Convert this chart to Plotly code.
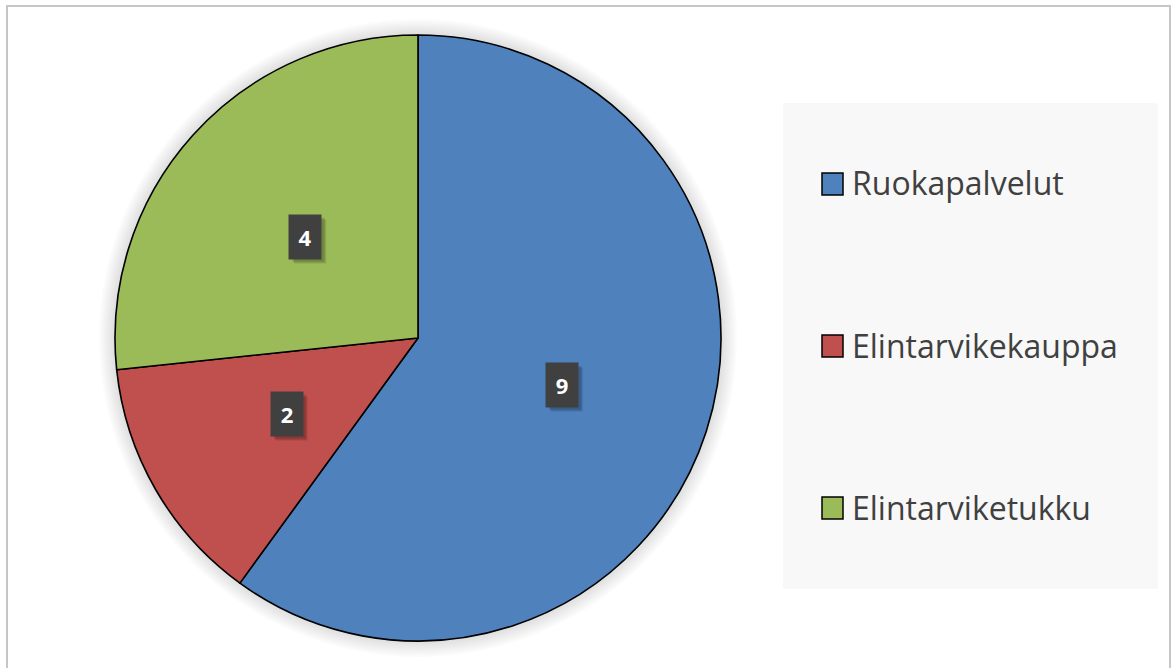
import math
import plotly.graph_objects as go

# ---- data ----
categories = ["Ruokapalvelut", "Elintarvikekauppa", "Elintarviketukku"]
values = [9, 2, 4]
colors = ["#4F81BD", "#C0504D", "#9BBB59"]

# ---- geometry (pixels) ----
W, H = 1175, 668
CX, CY, R = 418, 338, 303          # pie centre / radius in px (from top-left)
LEG_X0, LEG_X1, LEG_Y0, LEG_Y1 = 783, 1158, 103, 589
LEG_STEP = 162


def px(x):
    return x / W


def py(y):
    return 1 - y / H


fig = go.Figure()

fig.add_trace(go.Pie(
    labels=categories,
    values=values,
    marker=dict(colors=colors, line=dict(color="#000000", width=1.6)),
    sort=False,
    direction="clockwise",
    rotation=0,
    textinfo="none",
    hoverinfo="label+value",
    showlegend=False,
    domain=dict(x=[px(CX - R), px(CX + R)], y=[py(CY + R), py(CY - R)]),
))

shapes = []
# outer frame
shapes.append(dict(type="rect", xref="paper", yref="paper",
                   x0=px(7), x1=px(1170), y0=py(6), y1=-0.05,
                   line=dict(color="#c6c6c6", width=2), fillcolor="rgba(0,0,0,0)",
                   layer="below"))
# soft glow behind pie
for k in range(1, 9):
    rr = R + 2 * k
    shapes.append(dict(type="circle", xref="paper", yref="paper",
                       x0=px(CX - rr), x1=px(CX + rr),
                       y0=py(CY + rr), y1=py(CY - rr),
                       line=dict(width=0), fillcolor="rgba(0,0,0,0.016)",
                       layer="below"))
# legend box
shapes.append(dict(type="rect", xref="paper", yref="paper",
                   x0=px(LEG_X0), x1=px(LEG_X1), y0=py(LEG_Y1), y1=py(LEG_Y0),
                   line=dict(width=0), fillcolor="#f8f8f8", layer="below"))

annotations = []
# data labels at half radius on the slice mid-angle
total = sum(values)
cum = 0
BW, BH = 32, 44
for v in values:
    mid = (cum + v / 2) / total * 2 * math.pi
    cum += v
    lx = CX + 0.5 * R * math.sin(mid)
    ly = CY - 0.5 * R * math.cos(mid)
    # soft shadow of the label box
    for s, a in ((5, 0.08), (4, 0.10), (3, 0.12)):
        shapes.append(dict(type="rect", xref="paper", yref="paper",
                           x0=px(lx - BW / 2 + s), x1=px(lx + BW / 2 + s),
                           y0=py(ly + BH / 2 + s), y1=py(ly - BH / 2 + s),
                           line=dict(width=0), fillcolor="rgba(0,0,0,%.2f)" % a))
    annotations.append(dict(xref="paper", yref="paper", x=px(lx), y=py(ly),
                            text="<b>%d</b>" % v, showarrow=False, width=BW, height=BH,
                            font=dict(family="Open Sans", size=22, color="#ffffff"),
                            bgcolor="#404040", borderpad=0,
                            xanchor="center", yanchor="middle"))

# legend entries
leg_mid = (LEG_Y0 + LEG_Y1) / 2
n = len(categories)
for i, (cat, col) in enumerate(zip(categories, colors)):
    yc = leg_mid + (i - (n - 1) / 2) * LEG_STEP
    shapes.append(dict(type="rect", xref="paper", yref="paper",
                       x0=px(822), x1=px(843), y0=py(yc + 11), y1=py(yc - 11),
                       line=dict(color="#000000", width=1.5), fillcolor=col))
    annotations.append(dict(xref="paper", yref="paper", x=px(850), y=py(yc - 1),
                            text=cat, showarrow=False, xanchor="left", yanchor="middle",
                            font=dict(family="Open Sans", size=32, color="#404040")))

fig.update_layout(
    width=W, height=H,
    margin=dict(l=0, r=0, t=0, b=0),
    paper_bgcolor="#ffffff",
    plot_bgcolor="#ffffff",
    shapes=shapes,
    annotations=annotations,
)

fig.write_html("out.html", config={"displayModeBar": False},
               post_script="document.body.style.margin='0px';")
